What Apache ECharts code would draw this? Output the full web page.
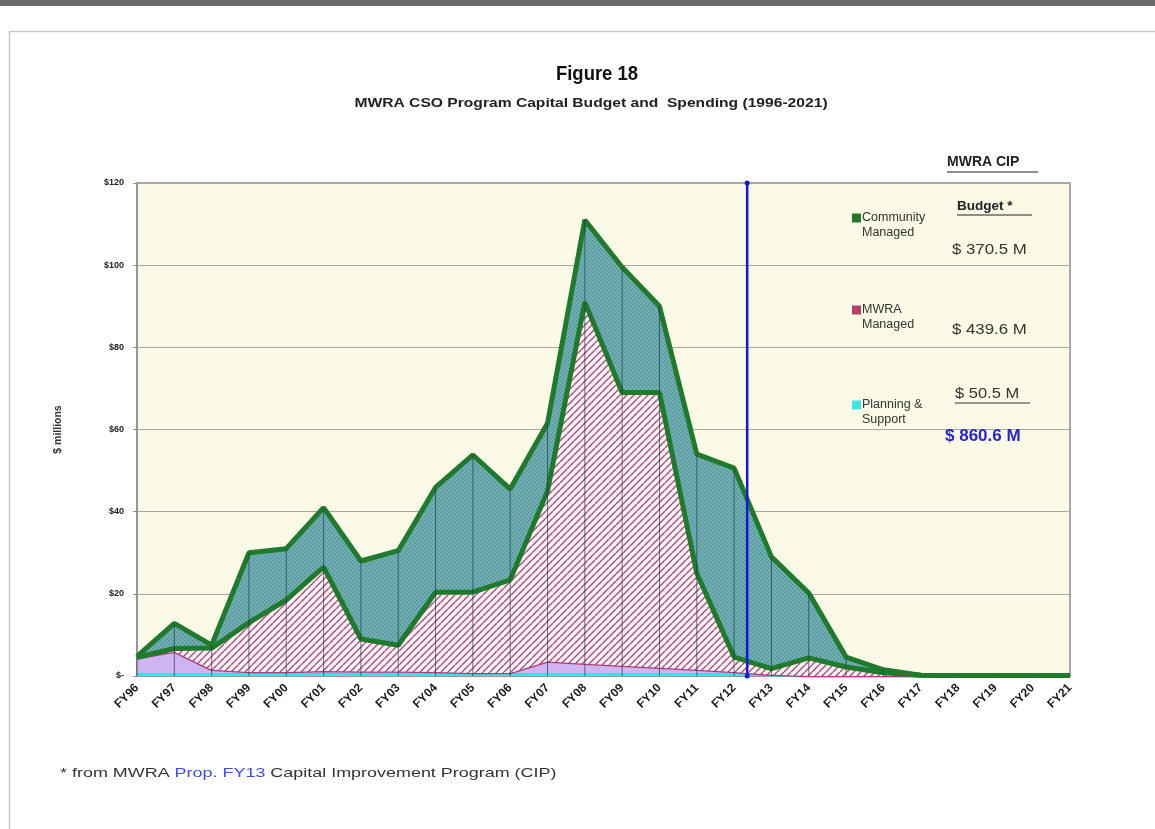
<!DOCTYPE html>
<html>
<head>
<meta charset="utf-8">
<script src="https://cdn.jsdelivr.net/npm/echarts@6/dist/echarts.min.js"></script>
<style>
html,body{margin:0;padding:0;background:#ffffff;}
#chart{width:1155px;height:829px;}
</style>
</head>
<body>
<div id="chart"></div>
<script>
const categories = ['FY96','FY97','FY98','FY99','FY00','FY01','FY02','FY03','FY04','FY05','FY06','FY07','FY08','FY09','FY10','FY11','FY12','FY13','FY14','FY15','FY16','FY17','FY18','FY19','FY20','FY21'];
// Planning & Support: cyan base strip and lavender part ($ millions)
const planningBase  = [0.7,0.7,0.7,0.7,0.7,0.7,0.7,0.7,0.7,0.7,0.7,0.7,0.7,0.7,0.7,0.7,0.7,0.3,0,0,0,0,0,0,0,0];
const planningOther = [3.6,5.2,0.8,0.3,0.3,0.5,0.4,0.4,0.3,0,0,2.8,2.3,1.8,1.3,0.8,0.3,0,0,0,0,0,0,0,0,0];
// MWRA Managed ($ millions)
const mwraManaged   = [0.2,0.8,5.3,12,17.5,25.3,7.9,6.4,19.4,19.7,22.7,41.5,88,66.5,67,23.5,3.6,1.5,4.4,2.2,0.8,0.2,0.1,0.1,0.1,0.1];
// Community Managed ($ millions)
const communityManaged = [0.3,6.1,0.7,17,12.5,14.5,19,23,25.5,33.4,22.1,16.5,20,30.5,21,29,46,27.2,15.8,2.4,0.7,0,0,0,0,0];
const yTicks = [0,20,40,60,80,100,120];
const cipLineX = 16.35; // FY13 CIP marker, between FY12 (16) and FY13 (17)
const budgetLabels = ['$ 370.5 M','$ 439.6 M','$ 50.5 M','$ 860.6 M'];

const totals = categories.map((c,i)=>planningBase[i]+planningOther[i]+mwraManaged[i]+communityManaged[i]);

function hatchPattern(bg, fg, size, lw){
  const c = document.createElement('canvas');
  c.width = size; c.height = size;
  const g = c.getContext('2d');
  g.fillStyle = bg; g.fillRect(0,0,size,size);
  g.strokeStyle = fg; g.lineWidth = lw;
  for (let k=-1;k<=1;k++){
    g.beginPath();
    g.moveTo(k*size, size);
    g.lineTo(k*size+size, 0);
    g.stroke();
  }
  return c;
}
function dotPattern(){
  const c = document.createElement('canvas');
  c.width = 4; c.height = 4;
  const g = c.getContext('2d');
  g.fillStyle = '#6aa9ab'; g.fillRect(0,0,4,4);
  g.fillStyle = '#4a8b88'; g.fillRect(0,0,1,1); g.fillRect(2,2,1,1);
  g.fillStyle = '#80b5cb'; g.fillRect(2,0,1,1); g.fillRect(0,2,1,1);
  return c;
}

const FONT2 = "'Liberation Sans',Arial,sans-serif";
const legendIcon = 'path://M0,0H0.01V0.01H0Z M0,3H9V12H0Z M0,30H0.01V30.01H0Z';

function txt(x, y, text, font, fill, scaleX, align){
  return {type:'text', x:x, y:y, scaleX:scaleX||1, z:100,
    style:{text:text, font:font, fill:fill, textAlign:align||'left', textVerticalAlign:'middle'}};
}

const chart = echarts.init(document.getElementById('chart'));
const option = {
  backgroundColor: '#ffffff',
  animation: false,
  legend: [
    {data:[{name:'Community Managed', itemStyle:{color:'#1f7a2c'}}], left:847, top:205.5,
     icon:legendIcon, itemWidth:9, itemHeight:30, selectedMode:false,
     formatter:()=> 'Community\nManaged',
     textStyle:{fontFamily:FONT2, fontSize:12.5, color:'#333', lineHeight:15, padding:[0,0,0,-4]}},
    {data:[{name:'MWRA Managed', itemStyle:{color:'#b2406a'}}], left:847, top:297.5,
     icon:legendIcon, itemWidth:9, itemHeight:30, selectedMode:false,
     formatter:()=> 'MWRA\nManaged',
     textStyle:{fontFamily:FONT2, fontSize:12.5, color:'#333', lineHeight:15, padding:[0,0,0,-4]}},
    {data:[{name:'Planning & Support', itemStyle:{color:'#3fe3e3'}}], left:847, top:392.5,
     icon:legendIcon, itemWidth:9, itemHeight:30, selectedMode:false,
     formatter:()=> 'Planning &\nSupport',
     textStyle:{fontFamily:FONT2, fontSize:12.5, color:'#333', lineHeight:15, padding:[0,0,0,-4]}}
  ],
  grid: {left:137, right:85, top:183, bottom:153, show:true, backgroundColor:'#fbfae6', borderColor:'#8f8f8f', borderWidth:1.5},
  xAxis: [
    {type:'category', data:categories, boundaryGap:false,
     axisLine:{lineStyle:{color:'#8f8f8f', width:1.5}},
     axisTick:{show:false},
     axisLabel:{rotate:45, fontFamily:FONT2, fontWeight:'bold', fontSize:12, color:'#1a1a1a', margin:10, interval:0},
     splitLine:{show:false}},
    {type:'value', min:0, max:25, show:false}
  ],
  yAxis: {type:'value', min:0, max:120, interval:20,
    name:'$ millions', nameLocation:'middle', nameGap:73, nameRotate:90,
    nameTextStyle:{fontFamily:FONT2, fontSize:10.5, fontWeight:'bold', color:'#333'},
    axisLine:{show:true, lineStyle:{color:'#8f8f8f', width:1.5}},
    axisTick:{show:true, length:4, lineStyle:{color:'#8f8f8f'}},
    axisLabel:{fontFamily:FONT2, fontWeight:'bold', fontSize:9, color:'#222', margin:13,
      formatter:v=> v===0 ? '$-' : '$'+v},
    splitLine:{lineStyle:{color:'#a8a8a0', width:1.2}}
  },
  series: [
    {name:'Planning & Support', type:'line', stack:'s', data:planningBase, symbol:'none',
     lineStyle:{color:'#38dfe8', width:3.5}, itemStyle:{color:'#3fe3e3'},
     areaStyle:{color:'#4fe0ea', opacity:1}, z:3},
    {name:'Planning & Support', type:'line', stack:'s', data:planningOther, symbol:'none',
     lineStyle:{color:'#b03a78', width:2.5}, itemStyle:{color:'#c9a8ef'},
     areaStyle:{color:'#cfb4f2', opacity:1}, z:4},
    {name:'MWRA Managed', type:'line', stack:'s', data:mwraManaged, symbol:'none',
     lineStyle:{color:'#1f7a2c', width:5}, itemStyle:{color:'#b2406a'},
     areaStyle:{color:{image:hatchPattern('#fdf6f9','#b4487a',7,1.45), repeat:'repeat'}, opacity:1}, z:6},
    {name:'Community Managed', type:'line', stack:'s', data:communityManaged, symbol:'none',
     lineStyle:{color:'#1f7a2c', width:5}, itemStyle:{color:'#1f7a2c'},
     areaStyle:{color:{image:dotPattern(), repeat:'repeat'}, opacity:1}, z:5},
    {name:'drop lines', type:'custom', data:totals.map((t,i)=>[i,t]),
     renderItem:(params, api)=>{
       const p0 = api.coord([api.value(0),0]);
       const p1 = api.coord([api.value(0),api.value(1)]);
       return {type:'line', shape:{x1:p0[0],y1:p0[1],x2:p1[0],y2:p1[1]},
               style:{stroke:'#1d3d4a', lineWidth:1, opacity:0.7}};
     }, z:8, silent:true},
    {name:'FY13 CIP', type:'line', xAxisIndex:1, data:[[cipLineX,0],[cipLineX,120]],
     symbol:'circle', symbolSize:5, lineStyle:{color:'#1515e0', width:2.5},
     itemStyle:{color:'#1515e0'}, z:10, silent:true}
  ],
  graphic: [
    {type:'rect', shape:{x:0,y:0,width:1155,height:6}, style:{fill:'#6a6a6a'}},
    {type:'rect', shape:{x:9.5,y:31.5,width:1160,height:820}, style:{fill:'none', stroke:'#c8c8c8', lineWidth:1.5}},
    txt(597, 74, 'Figure 18', "bold 21px "+FONT2, '#111', 0.88, 'center'),
    txt(591, 104, 'MWRA CSO Program Capital Budget and  Spending (1996-2021)', "bold 12.5px "+FONT2, '#222', 1.25, 'center'),
    txt(947, 162, 'MWRA CIP', "bold 14px "+FONT2, '#222', 1.0),
    {type:'line', shape:{x1:947,y1:172,x2:1038,y2:172}, style:{stroke:'#222', lineWidth:1.2}},
    txt(957, 206, 'Budget *', "bold 13.5px "+FONT2, '#222', 1.0),
    {type:'line', shape:{x1:957,y1:215,x2:1032,y2:215}, style:{stroke:'#222', lineWidth:1.2}},
    txt(952, 250, budgetLabels[0], "15px "+FONT2, '#333', 1.12),
    txt(952, 330, budgetLabels[1], "15px "+FONT2, '#333', 1.12),
    txt(955, 394, budgetLabels[2], "15px "+FONT2, '#333', 1.1),
    {type:'line', shape:{x1:955,y1:403,x2:1030,y2:403}, style:{stroke:'#333', lineWidth:1}},
    txt(945, 436, budgetLabels[3], "bold 17px "+FONT2, '#2525d8', 1.0),
    {type:'text', x:60, y:773, scaleX:1.38, style:{
      rich:{a:{font:"13px "+FONT2, fill:'#333'}, b:{font:"13px "+FONT2, fill:'#3d4ee0'}},
      textVerticalAlign:'middle',
      text:'{a|* from MWRA }{b|Prop. FY13}{a| Capital Improvement Program (CIP)}'}}
  ]
};
chart.setOption(option);
</script>
</body>
</html>
